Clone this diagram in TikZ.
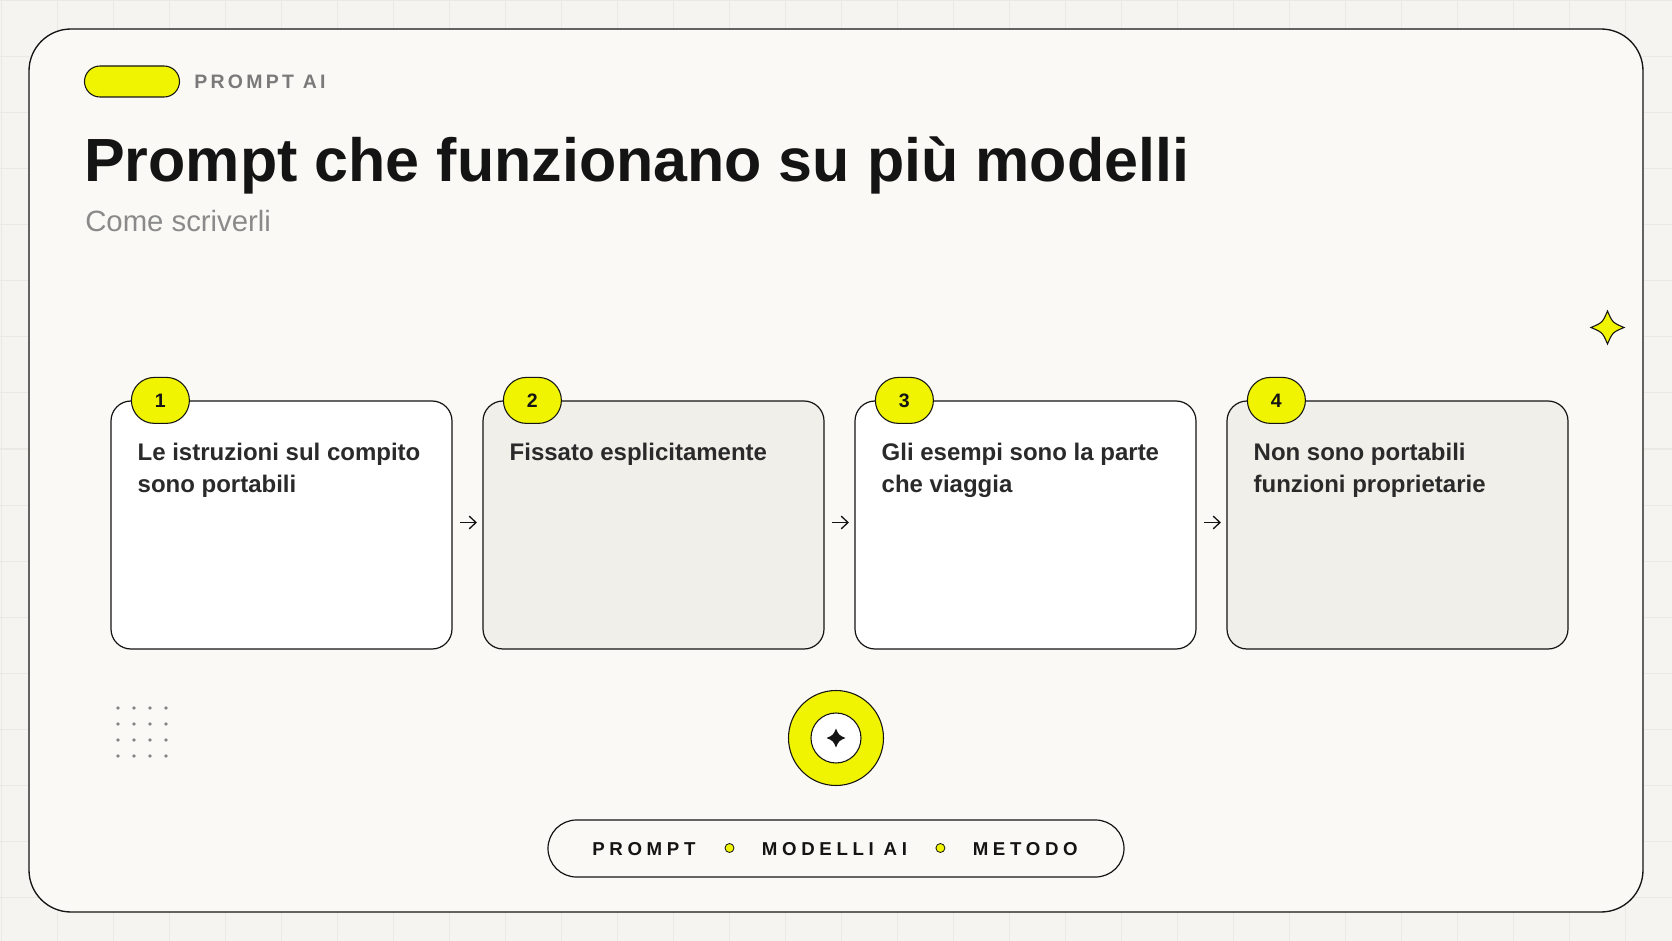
\documentclass[tikz,border=0pt]{standalone}
\usepackage{fontspec}
\setmainfont{Liberation Sans}
\newfontfamily\spacedA[LetterSpace=17]{Liberation Sans}
\newfontfamily\spacedB[LetterSpace=25]{Liberation Sans}
\usetikzlibrary{arrows.meta}
\newlength\px \setlength\px{0.75pt}
\definecolor{pagebg}{HTML}{F5F4F0}
\definecolor{gridc}{HTML}{EAE9E4}
\definecolor{cardbg}{HTML}{FAF9F5}
\definecolor{graycard}{HTML}{F0EFE9}
\definecolor{yel}{RGB}{240,244,0}
\definecolor{ink}{HTML}{141414}
\definecolor{txt}{HTML}{2A2A2A}
\definecolor{muted}{HTML}{7A7A7A}
\definecolor{subc}{HTML}{8A8A8A}
\definecolor{dotc}{HTML}{858585}
\tikzset{
 card/.style={draw=ink, line width=0.9pt, rounded corners=20\px, minimum width=341\px, minimum height=248\px, inner sep=0pt},
 badge/.style={draw=ink, line width=0.8pt, fill=yel, rounded corners=23\px, minimum width=58\px, minimum height=46\px, inner sep=0pt, font=\bfseries\fontsize{14.6}{16}\selectfont, text=ink},
 cardtext/.style={anchor=north west, inner sep=0pt, align=left, font=\bfseries\fontsize{18}{23.6}\selectfont, text=txt},
 conn/.style={-{Straight Barb[length=5pt,width=9.5pt]}, line width=1pt, draw=ink, shorten <=7.5\px, shorten >=5.5\px},
 pilltext/.style={anchor=base west, inner sep=0pt, font=\spacedB\bfseries\fontsize{14}{16}\selectfont, text=ink},
 sepdot/.style={circle, draw=ink, line width=0.6pt, fill=yel, minimum size=9\px, inner sep=0pt},
 pics/sparkle/.style={code={\path[pic actions] (0,-#1) .. controls (0.3*#1,-0.3*#1) .. (#1,0) .. controls (0.3*#1,0.3*#1) .. (0,#1) .. controls (-0.3*#1,0.3*#1) .. (-#1,0) .. controls (-0.3*#1,-0.3*#1) .. cycle;}},
}
\begin{document}
\begin{tikzpicture}[x=0.75pt, y=-0.75pt]
\useasboundingbox (0,0) rectangle (1672,941);
\fill[pagebg] (0,0) rectangle (1672,941);
\foreach \g in {1,57,...,1681} \draw[gridc, line width=0.75pt] (\g,0) -- (\g,941);
\foreach \g in {1,57,...,945} \draw[gridc, line width=0.75pt] (0,\g) -- (1672,\g);
% frame
\node[draw=ink, line width=1pt, fill=cardbg, rounded corners=42\px, minimum width=1614\px, minimum height=883\px, inner sep=0pt] (frame) at (836,470.5) {};
% header
\node[draw=ink, line width=0.8pt, fill=yel, rounded corners=15.5\px, minimum width=95\px, minimum height=31\px, inner sep=0pt] (tag) at (132,81.5) {};
\node[anchor=base west, inner sep=0pt, font=\spacedA\bfseries\fontsize{14.6}{16}\selectfont, text=muted] (tagtxt) at (194,89) {PROMPT AI};
\node[anchor=base west, inner sep=0pt, font=\bfseries\fontsize{45.75}{50}\selectfont, text=ink] (title) at (84,182) {Prompt che funzionano su più modelli};
\node[anchor=base west, inner sep=0pt, font=\fontsize{22}{26}\selectfont, text=subc] (subtitle) at (85,232) {Come scriverli};
% cards
\node[card, fill=white] (c1) at (281.5,525) {};
\node[card, fill=graycard] (c2) at (653.5,525) {};
\node[card, fill=white] (c3) at (1025.5,525) {};
\node[card, fill=graycard] (c4) at (1397.5,525) {};
\node[badge] (b1) at ([shift={(50,0)}]c1.north west) {1};
\node[badge] (b2) at ([shift={(50,0)}]c2.north west) {2};
\node[badge] (b3) at ([shift={(50,0)}]c3.north west) {3};
\node[badge] (b4) at ([shift={(50,0)}]c4.north west) {4};
\node[cardtext] (t1) at ([shift={(27,36)}]c1.north west) {\rule{0pt}{18pt}Le istruzioni sul compito\\sono portabili};
\node[cardtext] (t2) at ([shift={(27,36)}]c2.north west) {\rule{0pt}{18pt}Fissato esplicitamente};
\node[cardtext] (t3) at ([shift={(27,36)}]c3.north west) {\rule{0pt}{18pt}Gli esempi sono la parte\\che viaggia};
\node[cardtext] (t4) at ([shift={(27,36)}]c4.north west) {\rule{0pt}{18pt}Non sono portabili\\funzioni proprietarie};
\draw[conn] ([yshift=2.5\px]c1.east) -- ([yshift=2.5\px]c2.west);
\draw[conn] ([yshift=2.5\px]c2.east) -- ([yshift=2.5\px]c3.west);
\draw[conn] ([yshift=2.5\px]c3.east) -- ([yshift=2.5\px]c4.west);
% decorations
\pic[fill=yel, draw=ink, line width=0.8pt] at (1607.5,327.5) {sparkle=16.5};
\foreach \i in {0,...,3} \foreach \j in {0,...,3} \fill[dotc] (118+16*\i,708+16*\j) circle[radius=1.8\px];
\node[circle, draw=ink, line width=0.8pt, fill=yel, minimum size=95\px, inner sep=0pt] (ring) at (836,738) {};
\node[circle, draw=ink, line width=0.8pt, fill=white, minimum size=50\px, inner sep=0pt] (hole) at (ring.center) {};
\pic[fill=ink] at (hole.center) {sparkle=9.5};
% bottom pill
\node[draw=ink, line width=0.9pt, fill=cardbg, rounded corners=28.5\px, minimum width=576\px, minimum height=57\px, inner sep=0pt] (pill) at (836,848.5) {};
\node[pilltext] (p1) at (592,855) {PROMPT};
\node[sepdot] (d1) at (729.5,848) {};
\node[pilltext] (p2) at (761.6,855) {MODELLI AI};
\node[sepdot] (d2) at (940.4,848) {};
\node[pilltext] (p3) at (972.5,855) {METODO};
\end{tikzpicture}
\end{document}
